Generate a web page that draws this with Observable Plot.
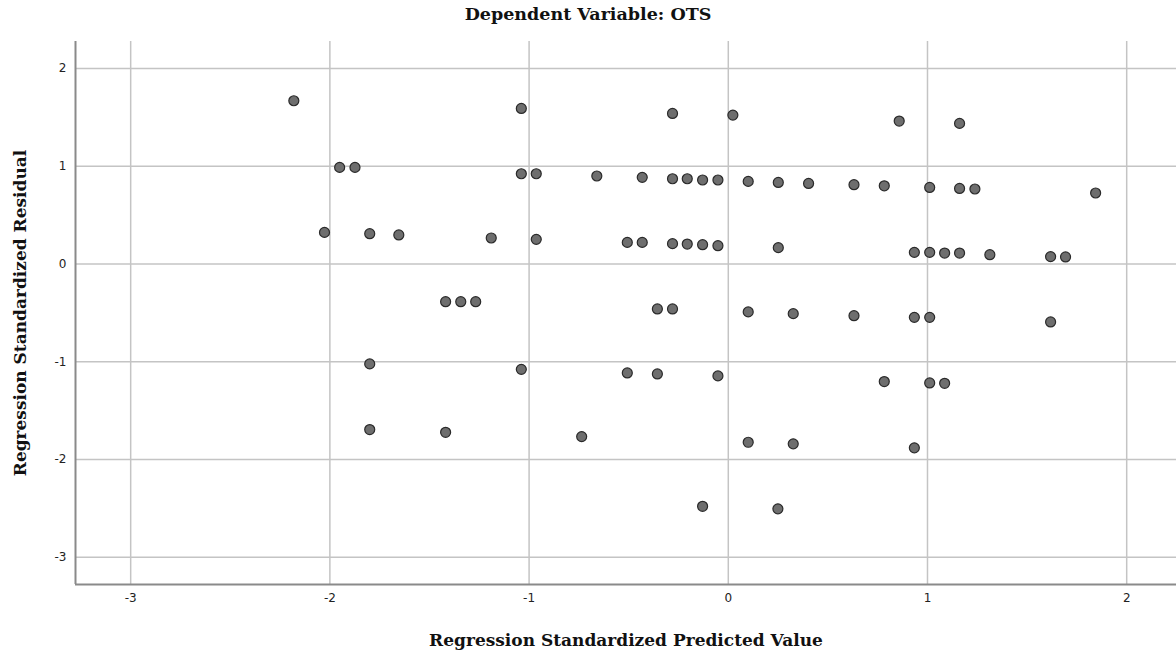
<!DOCTYPE html>
<html>
<head>
<meta charset="utf-8">
<script src="https://cdn.jsdelivr.net/npm/d3@7"></script>
<script src="https://cdn.jsdelivr.net/npm/@observablehq/plot@0.6"></script>
<style>
  html, body { margin: 0; padding: 0; background: #fff; }
  #title { width: 1176px; height: 28px; line-height: 28px; text-align: center;
           font-family: "DejaVu Serif", serif; font-weight: bold; font-size: 17.5px; color: #111; }
  #chart svg { display: block; }
</style>
</head>
<body>
<div id="title"></div>
<div id="chart"></div>
<script>
const titleText = "Dependent Variable: OTS";
const xLabel = "Regression Standardized Predicted Value";
const yLabel = "Regression Standardized Residual";
const xTicks = [-3, -2, -1, 0, 1, 2];
const yTicks = [-3, -2, -1, 0, 1, 2];
const xDomain = [-3.277, 2.25];
const yDomain = [-3.279, 2.276];

const predicted = [
  -2.181, -1.951, -1.874, -2.027, -1.800, -1.654, -1.800, -1.800,
  -1.419, -1.343, -1.268, -1.419, -1.190, -1.039, -1.039, -0.964,
  -0.964, -1.039, -0.660, -0.736, -0.507, -0.432, -0.507, -0.356,
  -0.280, -0.356, -0.280, -0.432, -0.280, -0.206, -0.129, -0.052,
  -0.280, -0.206, -0.129, -0.052, -0.052, -0.129, 0.023, 0.100,
  0.251, 0.403, 0.251, 0.100, 0.326, 0.100, 0.326, 0.249,
  0.631, 0.783, 0.858, 1.161, 1.011, 1.161, 1.238, 1.844,
  0.631, 0.934, 1.011, 1.086, 1.161, 1.313, 1.618, 1.693,
  0.934, 1.011, 1.618, 0.783, 1.011, 1.086, 0.934
];
const residual = [
  1.670, 0.988, 0.988, 0.323, 0.310, 0.297, -1.022, -1.694,
  -0.386, -0.386, -0.386, -1.722, 0.266, 1.591, 0.923, 0.923,
  0.252, -1.078, 0.900, -1.766, 0.221, 0.221, -1.115, -0.460,
  -0.460, -1.125, 1.540, 0.886, 0.872, 0.872, 0.859, 0.859,
  0.208, 0.204, 0.197, 0.187, -1.145, -2.479, 1.523, 0.845,
  0.834, 0.824, 0.167, -0.490, -0.508, -1.824, -1.840, -2.505,
  0.811, 0.800, 1.462, 1.438, 0.783, 0.773, 0.767, 0.726,
  -0.529, 0.119, 0.119, 0.112, 0.112, 0.095, 0.075, 0.072,
  -0.546, -0.546, -0.593, -1.203, -1.217, -1.221, -1.881
];

document.getElementById("title").textContent = titleText;
const data = predicted.map((x, i) => ({x, y: residual[i]}));
const fmt = d => String(d).replace("\u2212", "-");

const plot = Plot.plot({
  width: 1176,
  height: 624,
  marginLeft: 75,
  marginRight: 0,
  marginTop: 13,
  marginBottom: 68,
  style: {background: "#fff"},
  x: {domain: xDomain, ticks: xTicks, label: null},
  y: {domain: yDomain, ticks: yTicks, label: null},
  marks: [
    Plot.gridX(xTicks, {stroke: "#c4c4c4", strokeOpacity: 1, strokeWidth: 1.5}),
    Plot.gridY(yTicks, {stroke: "#c4c4c4", strokeOpacity: 1, strokeWidth: 1.5}),
    Plot.ruleX([xDomain[0]], {stroke: "#8a8a8a", strokeWidth: 2}),
    Plot.ruleY([yDomain[0]], {stroke: "#8a8a8a", strokeWidth: 2}),
    Plot.axisX(xTicks, {tickSize: 0, tickPadding: 9, fontSize: 12, fontFamily: "DejaVu Sans", fill: "#222", tickFormat: fmt}),
    Plot.axisY(yTicks, {tickSize: 0, tickPadding: 9, fontSize: 12, fontFamily: "DejaVu Sans", fill: "#222", tickFormat: fmt}),
    Plot.dot(data, {x: "x", y: "y", r: 5, fill: "#6e6e6e", stroke: "#2a2a2a", strokeWidth: 1.2}),
    Plot.text([xLabel], {frameAnchor: "bottom", dy: 61, text: d => d, textAnchor: "middle", fontFamily: "DejaVu Serif", fontWeight: "bold", fontSize: 17, fill: "#111"}),
    Plot.text([yLabel], {frameAnchor: "left", dx: -55, rotate: -90, text: d => d, textAnchor: "middle", fontFamily: "DejaVu Serif", fontWeight: "bold", fontSize: 17, fill: "#111"})
  ]
});
document.getElementById("chart").appendChild(plot);
</script>
</body>
</html>
